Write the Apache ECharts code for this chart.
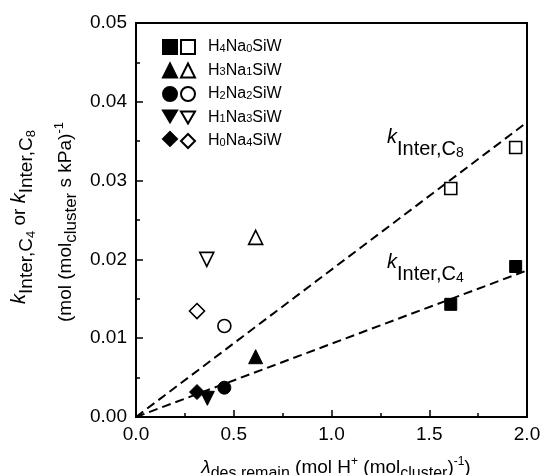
<!DOCTYPE html>
<html><head><meta charset="utf-8">
<script src="https://cdn.jsdelivr.net/npm/echarts@6/dist/echarts.min.js"></script>
<style>html,body{margin:0;padding:0;background:#fff}#c{width:544px;height:475px}</style>
</head><body><div id="c"></div>
<script>
const FONT = '"Liberation Sans", Arial, sans-serif';

// ---- data ----
const catalysts = ['H4Na0SiW', 'H3Na1SiW', 'H2Na2SiW', 'H1Na3SiW', 'H0Na4SiW'];
const lambdaC4 = [[1.61, 1.942], [0.612], [0.452], [0.365], [0.312]];
const kInterC4 = [[0.0143, 0.0191], [0.00765], [0.00372], [0.00237], [0.00317]];
const lambdaC8 = [[1.61, 1.942], [0.612], [0.452], [0.362], [0.312]];
const kInterC8 = [[0.0290, 0.0342], [0.0228], [0.01155], [0.0200], [0.01345]];
const fitX = [0, 2.0];
const fitC8 = [0, 0.0374];
const fitC4 = [0, 0.0186];
const xTickDecimals = 1;
const yTickDecimals = 2;

const symbols = ['rect', 'triangle', 'circle', 'path://M0,0L20,0L10,17Z', 'diamond'];
const symSizes = [12, 14, 13, 14, 15];

const chart = echarts.init(document.getElementById('c'), null, {renderer: 'canvas'});

const series = [];
series.push({
  type: 'line', name: 'fitC8', data: fitX.map((x, i) => [x, fitC8[i]]), symbol: 'none', silent: true, z: 1,
  lineStyle: {color: '#000', width: 2, type: [9, 5]}
});
series.push({
  type: 'line', name: 'fitC4', data: fitX.map((x, i) => [x, fitC4[i]]), symbol: 'none', silent: true, z: 1,
  lineStyle: {color: '#000', width: 2, type: [9, 5]}
});
catalysts.forEach((c, i) => {
  series.push({
    type: 'scatter', name: c + ' C4', symbol: symbols[i], symbolSize: symSizes[i], z: 3,
    data: lambdaC4[i].map((x, j) => [x, kInterC4[i][j]]),
    itemStyle: {color: '#000', borderColor: '#000', borderWidth: 1, opacity: 1}
  });
  series.push({
    type: 'scatter', name: c, symbol: symbols[i], symbolSize: symSizes[i], z: 3,
    data: lambdaC8[i].map((x, j) => [x, kInterC8[i][j]]),
    itemStyle: {color: '#fff', borderColor: '#000', borderWidth: 1.6, opacity: 1}
  });
});

// ---- rich text helpers (sub/superscripts) ----
const cv = document.createElement('canvas').getContext('2d');
function fontStr(s, it) { return (it ? 'italic ' : '') + s + 'px ' + FONT; }
function tw(t, s, it) { cv.font = fontStr(s, it); return cv.measureText(t).width; }
function run(pieces, x0, y0, center, rotation) {
  let W = 0;
  pieces.forEach(p => { W += tw(p[0], p[1], p[2]); });
  let x = center ? -W / 2 : 0;
  const children = [];
  pieces.forEach(([t, s, it, b]) => {
    children.push({
      type: 'text', x: x, y: b - 0.3 * s, silent: true,
      style: {text: t, font: fontStr(s, it), fill: '#000', align: 'left', verticalAlign: 'middle',
              textAlign: 'left', textVerticalAlign: 'middle'}
    });
    x += tw(t, s, it);
  });
  return {type: 'group', x: x0, y: y0, rotation: rotation || 0, silent: true, children};
}

const yTitle1 = [['k', 20, true, 0], ['Inter,C', 19, false, 7], ['4', 13, false, 10], [' or ', 19, false, 0],
                 ['k', 20, true, 0], ['Inter,C', 19, false, 7], ['8', 13, false, 10]];
const yTitle2 = [['(mol (mol', 19, false, 0], ['cluster', 17, false, 5], [' s kPa)', 19, false, 0], ['-1', 13, false, -8]];
const xTitle = [['λ', 19, true, 0], ['des remain', 16, false, 5], [' (mol H', 19, false, 0], ['+', 12, false, -8],
                [' (mol', 19, false, 0], ['cluster', 16, false, 5], [')', 19, false, 0], ['-1', 12, false, -8], [')', 19, false, 0]];
const labC8 = [['k', 20, true, 0], ['Inter,C', 20, false, 12], ['8', 14, false, 14]];
const labC4 = [['k', 20, true, 0], ['Inter,C', 20, false, 12], ['4', 14, false, 14]];

const option = {
  backgroundColor: '#fff',
  animation: false,
  grid: {left: 136, right: 17, top: 23, bottom: 58, show: true, borderColor: '#000', borderWidth: 2, backgroundColor: 'transparent'},
  xAxis: {
    type: 'value', min: 0, max: 2, interval: 0.5,
    axisLine: {show: true, onZero: false, lineStyle: {color: '#000', width: 2}},
    axisTick: {show: true, inside: true, length: 7, lineStyle: {color: '#000', width: 1.5}},
    minorTick: {show: true, splitNumber: 2, length: 4, lineStyle: {color: '#000', width: 1.5}},
    splitLine: {show: false},
    axisLabel: {color: '#000', fontSize: 19, fontFamily: FONT, margin: 8, formatter: v => v.toFixed(xTickDecimals)}
  },
  yAxis: {
    type: 'value', min: 0, max: 0.05, interval: 0.01,
    axisLine: {show: true, onZero: false, lineStyle: {color: '#000', width: 2}},
    axisTick: {show: true, inside: true, length: 7, lineStyle: {color: '#000', width: 1.5}},
    minorTick: {show: true, splitNumber: 2, length: 4, lineStyle: {color: '#000', width: 1.5}},
    splitLine: {show: false},
    axisLabel: {color: '#000', fontSize: 19, fontFamily: FONT, margin: 9, formatter: v => v.toFixed(yTickDecimals)}
  },
  legend: [
    {
      data: catalysts.map(c => c + ' C4'), orient: 'vertical', left: 162, top: 39, padding: 0,
      itemWidth: 14, itemHeight: 14, itemGap: 7.5, selectedMode: false, formatter: () => '',
      textStyle: {lineHeight: 14, fontSize: 14}
    },
    {
      data: catalysts.slice(), orient: 'vertical', left: 180, top: 39, padding: 0,
      itemWidth: 14, itemHeight: 14, itemGap: 7.5, selectedMode: false,
      formatter: n => n.replace(/(\d)/g, '{s|$1}'),
      textStyle: {color: '#000', fontSize: 16, fontFamily: FONT, lineHeight: 14, padding: [0, 0, 0, 8],
        rich: {s: {fontSize: 11, fontFamily: FONT, color: '#000', verticalAlign: 'bottom', lineHeight: 12}}}
    }
  ],
  series: series,
  graphic: [
    run(yTitle1, 25, 217, true, Math.PI / 2),
    run(yTitle2, 71, 222, true, Math.PI / 2),
    run(xTitle, 336, 473, true, 0),
    run(labC8, 387, 143, false, 0),
    run(labC4, 387, 268, false, 0)
  ]
};
chart.setOption(option);
</script>
</body></html>
